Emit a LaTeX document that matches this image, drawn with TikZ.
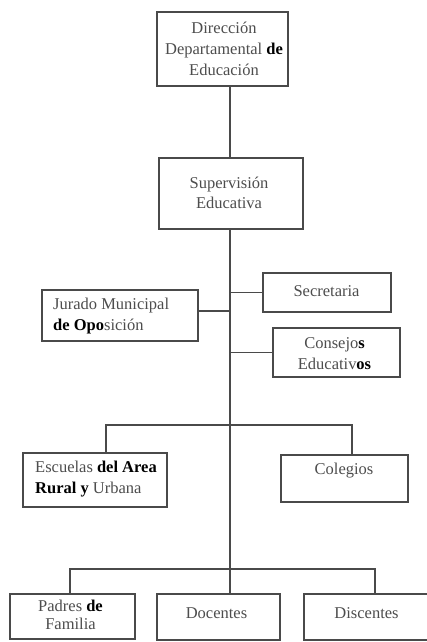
\documentclass[tikz,border=0pt]{standalone}
\usepackage{fontspec}
\setmainfont{Liberation Serif}
\definecolor{linec}{HTML}{4A4A4A}
\definecolor{textc}{HTML}{4D4D4D}
\newcommand{\dk}[1]{{\bfseries\color{black}#1}}
\begin{document}
\begin{tikzpicture}[x=1pt,y=-1pt,
  box/.style={draw=linec, line width=1.6pt, fill=white, inner sep=0pt},
  conn/.style={draw=linec, line width=1.7pt},
  txt/.style={text=textc, font=\fontsize{16.5}{21}\selectfont, inner sep=0pt, align=center}]
\useasboundingbox (0,0) rectangle (427,642);
\clip (0,0) rectangle (427,642);
\fill[white] (0,0) rectangle (427,642);
% trunk reference
\coordinate (trunkx) at (230,0);
\coordinate (b1l) at (106,425);
\coordinate (b1r) at (352,425);
\coordinate (b2l) at (70,569);
\coordinate (b2r) at (375,569);
% boxes
\node[box, minimum width=131, minimum height=74] (dir) at (222.5,49) {};
\node[box, minimum width=144, minimum height=71] (sup) at (231,193.5) {};
\node[box, minimum width=128, minimum height=39] (sec) at (327,292.5) {};
\node[box, minimum width=156, minimum height=51] (jur) at (120,315.5) {};
\node[box, minimum width=127, minimum height=49] (con) at (336.5,352.5) {};
\node[box, minimum width=144, minimum height=54] (esc) at (95,480) {};
\node[box, minimum width=127, minimum height=47] (col) at (344.5,478.5) {};
\node[box, minimum width=125, minimum height=45] (pad) at (72.5,616.5) {};
\node[box, minimum width=123, minimum height=46] (doc) at (218.5,617) {};
\node[box, minimum width=126, minimum height=46] (dis) at (367,617) {};
% texts
\node[txt] (tdir) at (224,49) {Dirección\\Departamental \dk{de}\\Educación};
\node[txt, font=\fontsize{16.5}{20}\selectfont] (tsup) at (229,193) {Supervisión\\Educativa};
\node[txt] (tsec) at (326.5,291) {Secretaria};
\node[txt, align=left, anchor=west] (tjur) at (53,316.5) {Jurado Municipal\\\dk{de Opo}sición};
\node[txt] (tcon) at (334.5,354) {Consejo\dk{s}\\Educativ\dk{os}};
\node[txt, align=left, anchor=west] (tesc) at (35,479.5) {Escuelas \dk{del Area}\\\dk{Rural y} Urbana};
\node[txt] (tcol) at (344,471) {Colegios};
\node[txt, font=\fontsize{16.5}{18}\selectfont] (tpad) at (70.5,614.5) {Padres \dk{de}\\Familia};
\node[txt] (tdoc) at (216.5,613) {Docentes};
\node[txt] (tdis) at (366.5,613) {Discentes};
% connectors
\draw[conn] (dir.south -| trunkx) -- (sup.north -| trunkx);
\draw[conn] (sup.south -| trunkx) -- (doc.north -| trunkx);
\draw[conn] (sec.west) -- (sec.west -| trunkx);
\draw[conn] ([yshift=4.5pt]jur.east) -- ([yshift=4.5pt]jur.east -| trunkx);
\draw[conn] (con.west) -- (con.west -| trunkx);
\draw[conn] (b1l |- esc.north) -- (b1l) -- (b1r) -- (b1r |- col.north);
\draw[conn] (b2l |- pad.north) -- (b2l) -- (b2r) -- (b2r |- dis.north);
\end{tikzpicture}
\end{document}
